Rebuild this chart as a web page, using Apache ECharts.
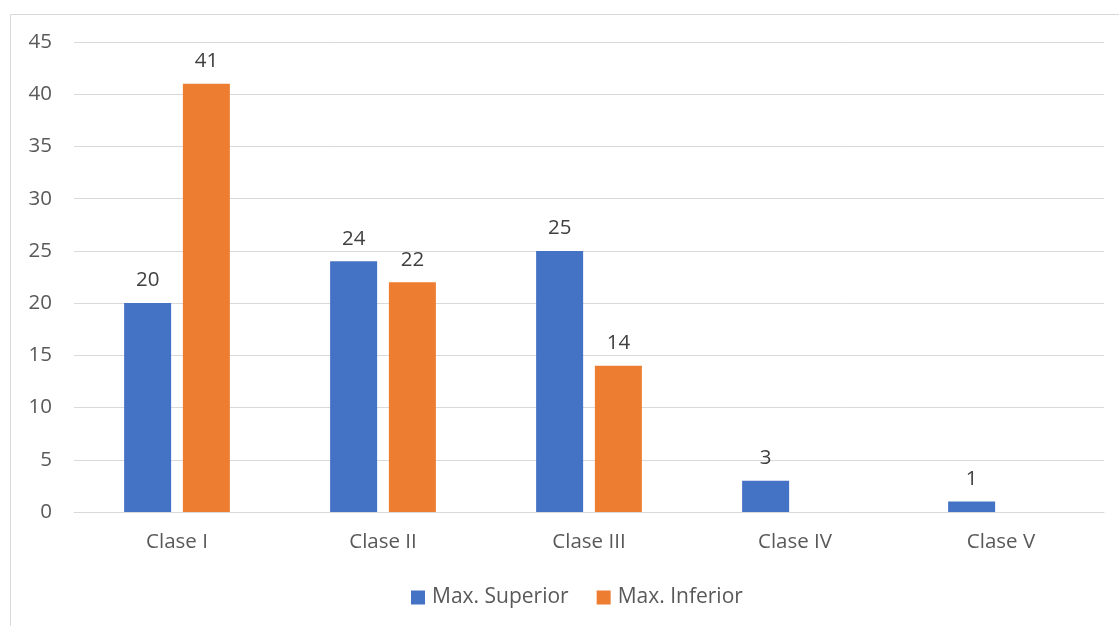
<!DOCTYPE html>
<html>
<head>
<meta charset="utf-8">
<script src="https://cdn.jsdelivr.net/npm/echarts@6/dist/echarts.min.js"></script>
<style>
  html, body { margin: 0; padding: 0; background: #ffffff; }
  #chart { width: 1119px; height: 626px; }
</style>
</head>
<body>
<div id="chart"></div>
<script>
// Categories and values per series
const categories = ['Clase I', 'Clase II', 'Clase III', 'Clase IV', 'Clase V'];
const maxSuperior = [20, 24, 25, 3, 1];
const maxInferior = [41, 22, 14, null, null];
const yTicks = { min: 0, max: 45, interval: 5 };

const FONT = '"Open Sans", "Liberation Sans", sans-serif';
const TEXT = '#595959';
const SIZE = 20.5;

const chart = echarts.init(document.getElementById('chart'), null, { renderer: 'canvas' });

const labelStyle = {
  show: true,
  position: 'top',
  distance: 12,
  color: '#404040',
  fontSize: SIZE,
  fontFamily: FONT
};

chart.setOption({
  backgroundColor: '#ffffff',
  animation: false,
  graphic: [{
    type: 'rect',
    shape: { x: 10.5, y: 14.5, width: 1130, height: 640 },
    style: { fill: 'none', stroke: '#d9d9d9', lineWidth: 1 },
    silent: true
  }],
  grid: { left: 74, right: 15, top: 42, bottom: 114 },
  legend: {
    top: 582,
    left: 406,
    itemWidth: 14,
    itemHeight: 14,
    itemGap: 28,
    icon: 'rect',
    textStyle: { color: TEXT, fontSize: 21, fontFamily: FONT, padding: [0, 0, 0, 2] },
    data: ['Max. Superior', 'Max. Inferior']
  },
  xAxis: {
    type: 'category',
    data: categories,
    axisLine: { lineStyle: { color: '#d9d9d9', width: 1 } },
    axisTick: { show: false },
    axisLabel: { color: TEXT, fontSize: SIZE, fontFamily: FONT, margin: 20 }
  },
  yAxis: {
    type: 'value',
    min: yTicks.min,
    max: yTicks.max,
    interval: yTicks.interval,
    axisLine: { show: false },
    axisTick: { show: false },
    splitLine: { lineStyle: { color: '#d9d9d9', width: 1 } },
    axisLabel: { color: TEXT, fontSize: SIZE, fontFamily: FONT, margin: 22 }
  },
  series: [
    {
      name: 'Max. Superior',
      type: 'bar',
      data: maxSuperior,
      barWidth: 47,
      barGap: '25%',
      itemStyle: { color: '#4472C4' },
      label: labelStyle
    },
    {
      name: 'Max. Inferior',
      type: 'bar',
      data: maxInferior,
      barWidth: 47,
      barGap: '25%',
      itemStyle: { color: '#ED7D31' },
      label: labelStyle
    }
  ]
});
</script>
</body>
</html>
